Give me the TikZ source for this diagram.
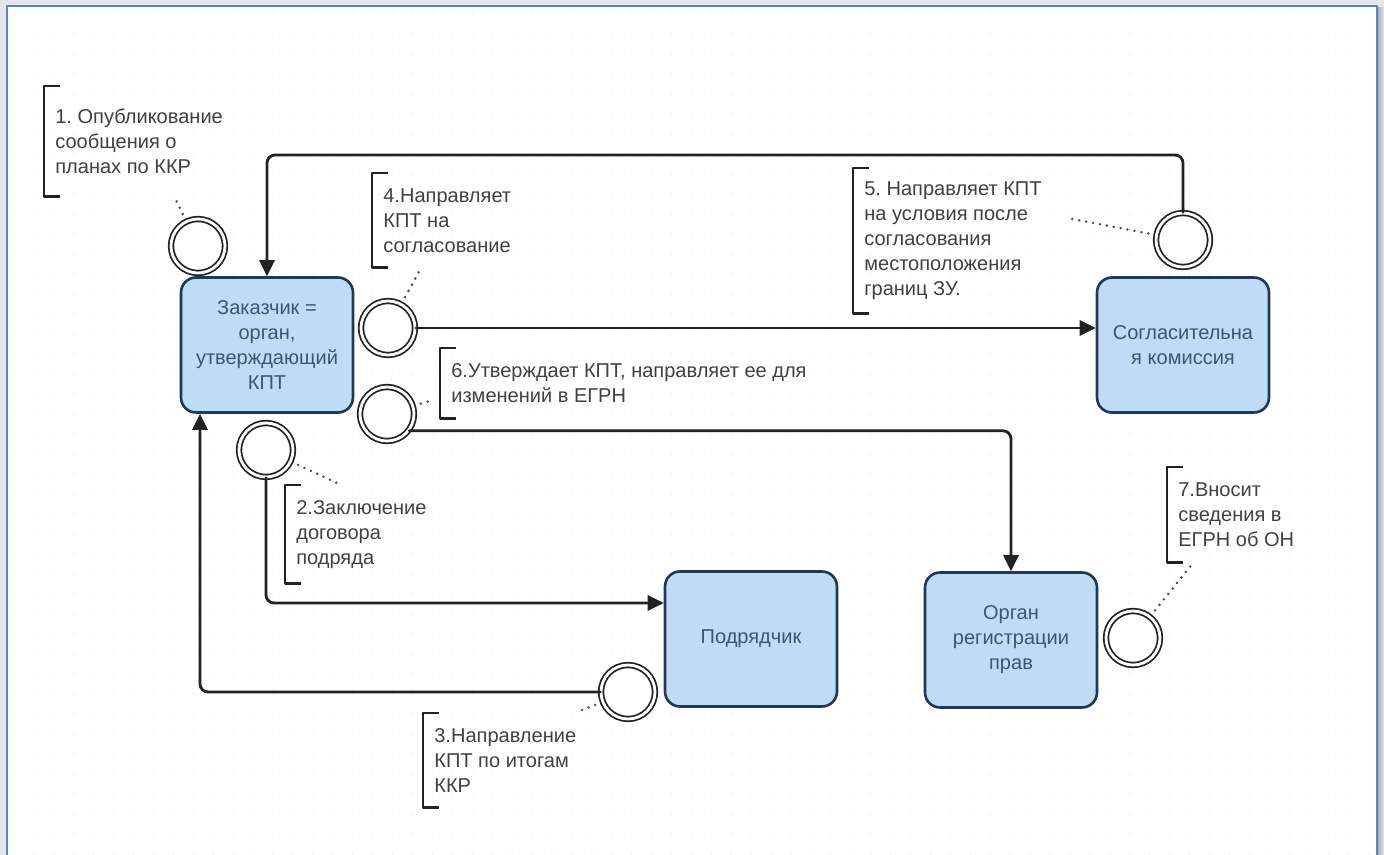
\documentclass[tikz,border=0pt]{standalone}
\usepackage{fontspec}
\setmainfont{Liberation Sans}
\usetikzlibrary{arrows.meta}
\frenchspacing
\definecolor{boxfill}{HTML}{BFDCF7}
\definecolor{boxline}{HTML}{1F3A56}
\definecolor{boxtext}{HTML}{3A5672}
\definecolor{notetext}{HTML}{404040}
\definecolor{framblue}{HTML}{4F86CC}
\definecolor{linedark}{HTML}{222222}
\definecolor{pagegray}{HTML}{E4E6EA}
\tikzset{
	party/.style={draw=boxline, fill=boxfill, line width=1.5pt, rounded corners=0.3cm,
		minimum width=3.44cm, minimum height=2.7cm, align=center, text=boxtext},
	event/.style={circle, draw=linedark, line width=1pt, double, double distance=1.6pt,
		minimum size=1.08cm, inner sep=0pt, fill=white},
	note/.style={anchor=north west, align=left, inner xsep=0.22cm, inner ysep=0pt, text=notetext},
	brk/.style={draw=linedark, line width=1.6pt, line cap=butt},
	flow/.style={->, draw=linedark, line width=1.6pt, rounded corners=0.16cm},
	assoc/.style={draw=linedark!80, line width=1.6pt, dash pattern=on 0pt off 4pt, shorten <=0.15cm},
	griddot/.style={draw=gray!30, line width=0.6pt, dash pattern=on 0pt off 11.34pt}
}
\begin{document}
\begin{tikzpicture}[x=0.02cm, y=-0.02cm, font=\fontsize{11.4}{14.2}\selectfont, line join=round, line cap=round, >={Triangle[length=0.32cm,width=0.3cm]}]
	% page and frame
	\useasboundingbox (0,0) rectangle (1384,855);
	\fill[pagegray] (0,0) rectangle (1384,855);
	\shade[left color=gray!70, right color=gray!20] (1377,8) rectangle (1384,855);
	\fill[white] (7,6) rectangle (1377,855);
	\foreach \y in {14,34,...,854}
		\draw[griddot] (14,\y) -- (1376,\y);
	\draw[framblue, line width=1.2pt] (7,856) -- (7,6) -- (1377,6) -- (1377,856);
	
	\path
	(0,155) coordinate (ty)
	(0,603) coordinate (ly)
	(200,0) coordinate (lx)
	(175,198) coordinate (t1)
	(337,483) coordinate (t2)
	(577,712) coordinate (t3)
	(420,270) coordinate (t4)
	(1067,218) coordinate (t5)
	(433,400) coordinate (t6)
	(1193,563) coordinate (t7);
	
	% participants
	\node[party] (zak) at (267,345) {Заказчик =\\орган,\\утверждающий\\КПТ};
	\node[party] (sogl) at (1183,345) {Согласительна\\я комиссия};
	\node[party] (podr) at (751,639) {Подрядчик};
	\node[party] (organ) at (1011,640) {Орган\\регистрации\\прав};
	
	% events
	\node[event] (c1) at (198,246) {};
	\node[event] (c2) at (266,450) {};
	\node[event] (c3) at (628,692) {};
	\node[event] (c4) at (388,328) {};
	\node[event] (c5) at (1183,240) {};
	\node[event] (c6) at (387,414) {};
	\node[event] (c7) at (1133,638) {};
	
	% annotations
	\node[note, minimum height=2.2cm] (n1) at (44,86) {1. Опубликование\\сообщения о\\планах по ККР};
	\node[note, minimum height=1.96cm] (n2) at (285,485) {2.Заключение\\договора\\подряда};
	\node[note, minimum height=1.88cm] (n3) at (423,713) {3.Направление\\КПТ по итогам\\ККР};
	\node[note, minimum height=1.88cm] (n4) at (372,173) {4.Направляет\\КПТ на\\согласование};
	\node[note, minimum height=2.9cm] (n5) at (853,168) {5. Направляет КПТ\\на условия после\\согласования\\местоположения\\границ ЗУ.};
	\node[note, minimum height=1.4cm] (n6) at (440,348) {6.Утверждает КПТ, направляет ее для\\изменений в ЕГРН};
	\node[note, minimum height=1.9cm] (n7) at (1167,467) {7.Вносит\\сведения в\\ЕГРН об ОН};
	\foreach \n in {n1,n2,n3,n4,n5,n6,n7}
		\draw[brk] ([xshift=0.32cm]\n.north west) -| (\n.south west) -- ++(0.32cm,0);
	\foreach \i in {1,...,7}
		\draw[assoc] (c\i) -- (t\i);
	
	% flows
	\draw[flow] (c5.north) |- (zak.north |- ty) -- (zak.north);
	\draw[flow] (c4.east) -- (sogl.west |- c4.east);
	\draw[flow] (c6.-37) -| (organ.north);
	\draw[flow] (c2.south) |- (podr.west |- ly);
	\draw[flow] (c3.west) -| (zak.south -| lx);
\end{tikzpicture}
\end{document}
